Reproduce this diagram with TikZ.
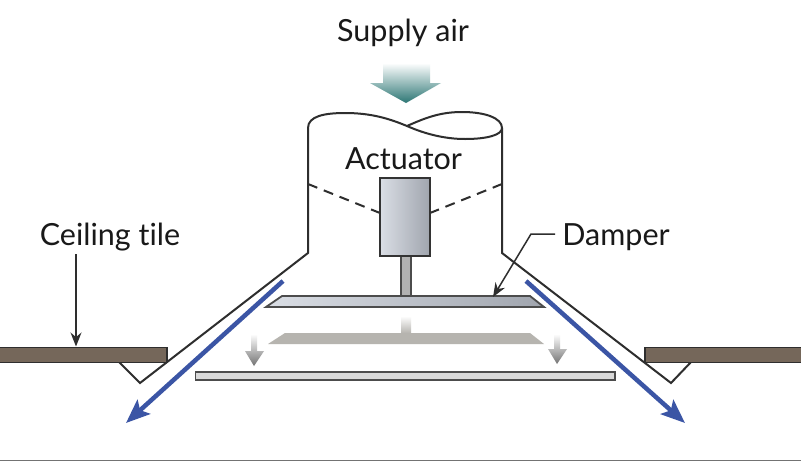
\documentclass[tikz,border=0pt]{standalone}
\usepackage{fontspec}
\setmainfont[Ligatures=NoCommon]{Lato}
\usetikzlibrary{arrows.meta,shadings,calc}
\definecolor{tilebrown}{HTML}{75675A}
\definecolor{airblue}{HTML}{3B55A5}
\definecolor{lineink}{HTML}{2E2E2E}
\definecolor{teal1}{HTML}{2C7674}
\definecolor{ghost}{HTML}{B6B4AF}
\definecolor{steelA}{HTML}{DADEE5}
\definecolor{steelB}{HTML}{A0A5AE}
\tikzset{
  wall/.style={draw=lineink,line width=2pt,line join=miter},
  tile/.style={draw=lineink,fill=tilebrown,line width=1.8pt,rectangle,inner sep=0pt,minimum height=15pt},
  label/.style={font=\fontsize{30.5}{33}\selectfont,text=black!90,inner sep=0pt},
  leader/.style={draw=lineink,line width=1.5pt,-{Stealth[length=14pt,width=11pt]}},
  airflow/.style={draw=airblue,line width=4.5pt,-{Stealth[length=24pt,width=19pt,inset=5pt]}},
  plate/.style={draw=black!70,line width=1.8pt},
  ghostarrow/.style={draw=none,top color=white,bottom color=black!55}
}
\begin{document}
\begin{tikzpicture}[x=1pt,y=-1pt]
\useasboundingbox (0,0) rectangle (801,461);
\fill[white] (0,0) rectangle (801,461);
% bottom rule
\draw[black!55,line width=1.6pt] (0,460.3) -- (801,460.3);
% supply arrow
\shade[top color=white,bottom color=teal1,shading angle=0]
  (383,63) -- (430,63) -- (430,83) -- (441,83) -- (406,103) -- (370,83) -- (383,83) -- cycle;
% duct
\draw[wall] (118,361) -- (140,383) -- (308,253) -- (308,128)
  .. controls (308,116) and (325,113) .. (345,113)
  .. controls (372,113) and (390,119) .. (407,126)
  .. controls (425,118) and (440,112) .. (462,112)
  .. controls (485,112) and (502,118) .. (502,128)
  -- (502,253) -- (671,383) -- (692,361);
\draw[wall] (407,126) .. controls (425,134) and (445,139) .. (465,139)
  .. controls (487,139) and (502,135) .. (502,128);
\draw[wall,dash pattern=on 10pt off 7pt] (308,184) -- (380,213);
\draw[wall,dash pattern=on 10pt off 7pt] (502,184) -- (430,213);
% ceiling tiles
\node[tile,anchor=north west,minimum width=171pt] (tileL) at (-5,346.5) {};
\node[tile,anchor=north west,minimum width=163pt] (tileR) at (644,346.5) {};
% damper lower position
\draw[draw=black!70,fill=black!15,line width=1.8pt] (195.5,372) rectangle (615,380);
\fill[ghost] (268,344) -- (285,333) -- (530,333) -- (544,344) -- cycle;
\shade[top color=white,bottom color=ghost] (401,316) rectangle (411,333);
\shade[ghostarrow] (251,334) -- (257,334) -- (257,351) -- (264,351) -- (254,366) -- (245,351) -- (251,351) -- cycle;
\shade[ghostarrow] (554,334) -- (560,334) -- (560,349) -- (567,349) -- (557,364) -- (548,349) -- (554,349) -- cycle;
% stem, damper
\draw[plate,fill=black!30] (401,256) rectangle (411,296);
\shade[plate,left color=steelA,right color=steelB] (266,307) -- (282,296) -- (530,296) -- (544,307) -- cycle;
% actuator
\node[draw=black!80,line width=1.8pt,shading angle=120,left color=steelA,right color=steelB,inner sep=0pt,minimum width=50pt,minimum height=78pt] (act) at (405,217) {};
% labels
\node[label] (supply) at (403,33) {Supply air};
\node[label] (actlabel) at (403.5,159) {Actuator};
\node[label] (ceiling) at (110,237) {Ceiling tile};
\node[label] (damper) at (616,237) {Damper};
% leaders
\coordinate (ctop) at (76,254);
\coordinate (ctip) at (76,346.5);
\draw[leader] (ctop) -- (ctip);
\coordinate (dknee) at (531,234);
\coordinate (dtip) at (493,297);
\draw[leader] (damper.west) ++(-7,-3) -- (dknee) -- (dtip);
% air flows
\coordinate (a1) at (283,281);
\coordinate (a2) at (126,423);
\coordinate (b1) at (526,281);
\coordinate (b2) at (685,423);
\draw[airflow] (a1) -- (a2);
\draw[airflow] (b1) -- (b2);
\end{tikzpicture}
\end{document}
